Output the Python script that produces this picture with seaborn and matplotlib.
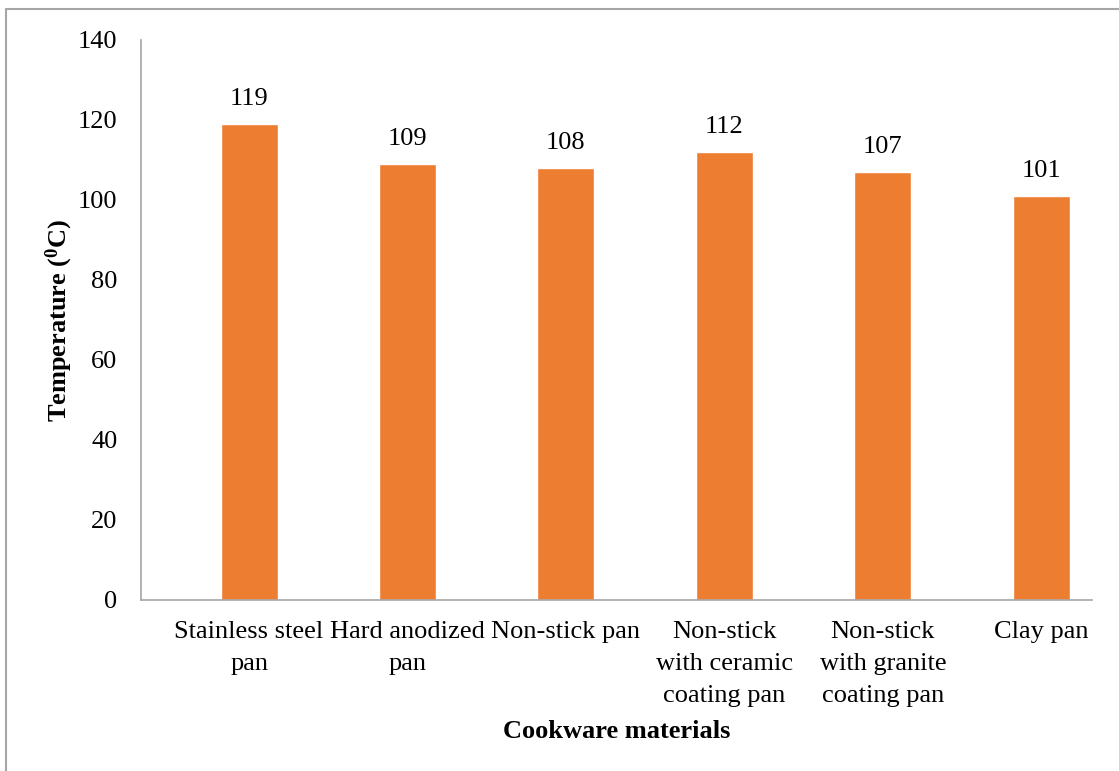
import matplotlib
matplotlib.use("Agg")
import matplotlib.pyplot as plt
import seaborn as sns
import pandas as pd
from matplotlib.lines import Line2D

# Peak temperature reached by each cookware material
categories = [
    "Stainless steel\npan",
    "Hard anodized\npan",
    "Non-stick pan",
    "Non-stick\nwith ceramic\ncoating pan",
    "Non-stick\nwith granite\ncoating pan",
    "Clay pan",
]
temperatures = [119, 109, 108, 112, 107, 101]
y_ticks = [0, 20, 40, 60, 80, 100, 120, 140]

sns.set_theme(style="white")
plt.rcParams["font.family"] = ["Liberation Serif", "DejaVu Serif"]
plt.rcParams["mathtext.fontset"] = "custom"
plt.rcParams["mathtext.rm"] = "Liberation Serif"
plt.rcParams["mathtext.bf"] = "Liberation Serif:bold"
plt.rcParams["text.color"] = "black"
plt.rcParams["axes.labelcolor"] = "black"

FS = 19

df = pd.DataFrame({"material": categories, "temp": temperatures})

W, H = 1119, 771
fig = plt.figure(figsize=(W / 100, H / 100), dpi=100)
ax = fig.add_axes([141 / W, 1 - 600 / H, (1092 - 141) / W, (600 - 40) / H])

sns.barplot(data=df, x="material", y="temp", color="#ED7D31", saturation=1,
            width=0.36, ax=ax)

ax.set_ylim(0, 140)
ax.set_xlim(-0.682, 5.32)
ax.set_yticks(y_ticks)
ax.tick_params(axis="both", labelsize=FS, colors="black", length=0)
ax.tick_params(axis="y", pad=17)
ax.tick_params(axis="x", pad=15)
for lab in ax.get_xticklabels():
    lab.set_linespacing(1.58)

for side in ["top", "right"]:
    ax.spines[side].set_visible(False)
for side in ["left", "bottom"]:
    ax.spines[side].set_color("#A6A6A6")
    ax.spines[side].set_linewidth(1.2)

# value labels above bars
for i, v in enumerate(temperatures):
    ax.annotate(f"{v}", xy=(i, v), xytext=(0, 10), textcoords="offset points",
                ha="center", va="bottom", fontsize=FS, color="black")

ax.set_xlabel("Cookware materials", fontsize=FS, fontweight="bold", labelpad=10)
ax.set_ylabel(r"Temperature ($\mathbf{^0}$C)", fontsize=FS, fontweight="bold",
              labelpad=2)

# chart frame (top and left edges)
fig.add_artist(Line2D([6 / W, 1], [1 - 8.5 / H, 1 - 8.5 / H],
                      transform=fig.transFigure, color="#A6A6A6", lw=1.5))
fig.add_artist(Line2D([6 / W, 6 / W], [0, 1 - 8.5 / H],
                      transform=fig.transFigure, color="#A6A6A6", lw=1.5))

fig.savefig("out.png", dpi=100, facecolor="white")
